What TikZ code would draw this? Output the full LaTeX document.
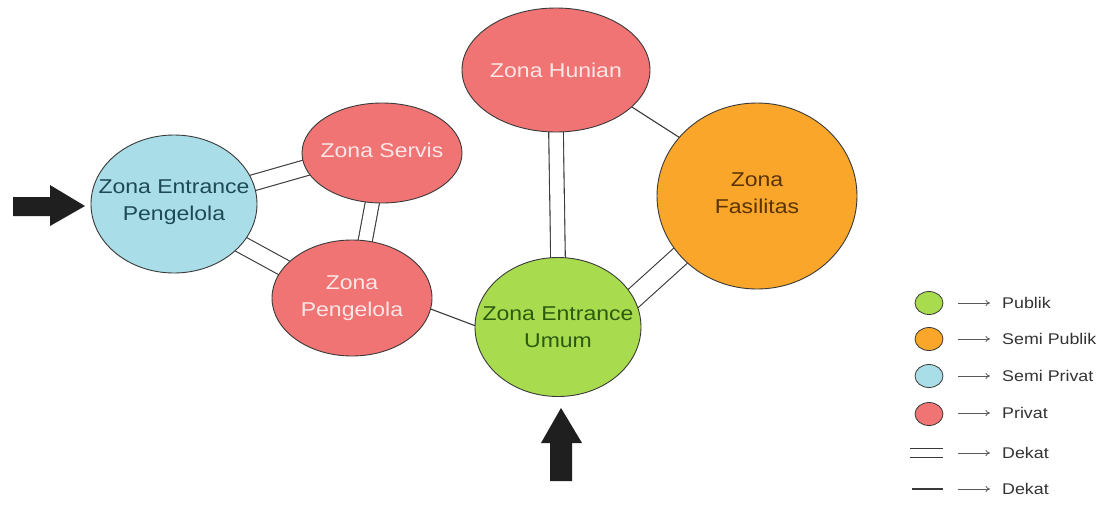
\documentclass[tikz,border=0pt]{standalone}
\usepackage{fontspec}
\setmainfont{Liberation Sans}[FakeStretch=1.15]
\usetikzlibrary{shapes.geometric,backgrounds,arrows.meta}

\definecolor{privatfill}{HTML}{F07474}
\definecolor{publikfill}{HTML}{A8DC4E}
\definecolor{semipubfill}{HTML}{F9A62A}
\definecolor{semiprivfill}{HTML}{A9DDE7}
\definecolor{edgeline}{HTML}{3A3A3A}
\definecolor{lighttext}{HTML}{FCE6E6}
\definecolor{tealtext}{HTML}{1E4A55}
\definecolor{greentext}{HTML}{2B5A10}
\definecolor{browntext}{HTML}{5A3204}
\definecolor{legendtext}{HTML}{333333}

\tikzset{
  zone/.style={ellipse, draw=edgeline, line width=0.9pt, inner sep=0pt},
  privat/.style={zone, fill=privatfill},
  publik/.style={zone, fill=publikfill},
  semipublik/.style={zone, fill=semipubfill},
  semiprivat/.style={zone, fill=semiprivfill},
  zonetext/.style={align=center, inner sep=0pt, font=\fontsize{20}{27}\selectfont},
  near/.style={draw=edgeline, line width=1.1pt, double=white, double distance=#1,
    shorten <=-10pt, shorten >=-10pt},
  near/.default=14pt,
  link/.style={draw=edgeline, line width=1.1pt, shorten <=-10pt, shorten >=-10pt},
  entry/.style={fill=black!88},
  keydot/.style={ellipse, draw=edgeline, line width=0.8pt, minimum width=28pt,
    minimum height=23pt, inner sep=0pt},
  keyarrow/.style={draw=black!65, line width=0.8pt, -{To[length=4.5pt,width=6pt]}},
  keytext/.style={anchor=west, inner sep=0pt, text=legendtext,
    font=\fontsize{15.5}{18}\selectfont},
}

\begin{document}
\begin{tikzpicture}[x=1pt, y=-1pt]
  \useasboundingbox (0,0) rectangle (1114,504);

  % zones
  \node[semiprivat, minimum width=166pt, minimum height=138pt] (ep) at (174,204) {};
  \node[privat, minimum width=160pt, minimum height=100pt] (sv) at (382,153) {};
  \node[privat, minimum width=160pt, minimum height=116pt] (pg) at (352,298) {};
  \node[privat, minimum width=188pt, minimum height=124pt] (hu) at (556,70) {};
  \node[semipublik, minimum width=200pt, minimum height=186pt] (fa) at (757,196) {};
  \node[publik, minimum width=166pt, minimum height=139pt] (um) at (558,327) {};

  % zone names
  \node[zonetext, text=tealtext] (ep-t) at ([yshift=2pt]ep.center) {Zona Entrance\\Pengelola};
  \node[zonetext, text=lighttext] (sv-t) at ([yshift=3pt]sv.center) {Zona Servis};
  \node[zonetext, text=lighttext] (pg-t) at (pg.center) {Zona\\Pengelola};
  \node[zonetext, text=lighttext] (hu-t) at (hu.center) {Zona Hunian};
  \node[zonetext, text=browntext] (fa-t) at ([yshift=3pt]fa.center) {Zona\\Fasilitas};
  \node[zonetext, text=greentext] (um-t) at (um.center) {Zona Entrance\\Umum};

  % relations, drawn beneath the zones
  \begin{scope}[on background layer]
    \fill[white] (0,0) rectangle (1114,504);
    \draw[near=15pt] (ep.15) -- (sv.191);
    \draw[near=16pt] (ep.-31) -- (pg.156);
    \draw[near=13pt] (sv.-101) -- (pg.77);
    \draw[near=13.5pt] (hu.-90) -- (um.90);
    \draw[near=19pt] (um.21) -- (fa.218);
    \draw[link] (pg.-8) -- (um.179);
    \draw[link] (hu.-26) -- (fa.143);
  \end{scope}

  % entrances
  \fill[entry] (13,197) -- (50,197) -- (50,185) -- (85,206) -- (50,226) -- (50,216) -- (13,216) -- cycle;
  \fill[entry] (550,481) -- (550,443) -- (541,443) -- (561,408) -- (582,443) -- (572,443) -- (572,481) -- cycle;

  % legend
  \node[keydot, fill=publikfill] (k1) at (929,303) {};
  \node[keydot, fill=semipubfill] (k2) at (929,339) {};
  \node[keydot, fill=semiprivfill] (k3) at (929,376) {};
  \node[keydot, fill=privatfill] (k4) at (929,414) {};
  \coordinate (k5a) at (910,453);
  \coordinate (k5b) at (943,453);
  \coordinate (k6a) at (912,489);
  \coordinate (k6b) at (943,489);
  \draw[draw=edgeline, line width=1.1pt, double=white, double distance=8pt] (k5a) -- (k5b);
  \draw[draw=edgeline, line width=1.1pt] (k6a) -- (k6b);

  \node[keytext] (t1) at (1002,303) {Publik};
  \node[keytext] (t2) at (1002,339) {Semi Publik};
  \node[keytext] (t3) at (1002,376) {Semi Privat};
  \node[keytext] (t4) at (1002,413) {Privat};
  \node[keytext] (t5) at (1002,453) {Dekat};
  \node[keytext] (t6) at (1002,489) {Dekat};

  \foreach \i in {1,...,6} {
    \draw[keyarrow] ([xshift=-44pt]t\i.west) -- ([xshift=-12pt]t\i.west);
  }
\end{tikzpicture}
\end{document}
